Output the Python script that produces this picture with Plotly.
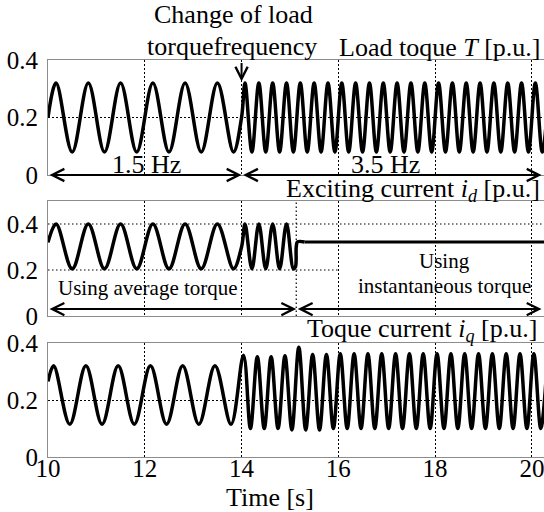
import plotly.graph_objects as go
from plotly.subplots import make_subplots

# ---------------- data ----------------
# Load torque T [p.u.] : extrema / crossing points
t_T = [10.0, 10.167, 10.5, 10.833, 11.167, 11.5, 11.833, 12.167, 12.5, 12.833, 13.167, 13.5, 13.833, 14.0,
       14.071, 14.214, 14.357, 14.5, 14.643, 14.786, 14.929, 15.071, 15.214, 15.357, 15.5, 15.643,
       15.786, 15.929, 16.071, 16.214, 16.357, 16.5, 16.643, 16.786, 16.929, 17.071, 17.214, 17.357,
       17.5, 17.643, 17.786, 17.929, 18.071, 18.214, 18.357, 18.5, 18.643, 18.786, 18.929, 19.071,
       19.214, 19.357, 19.5, 19.643, 19.786, 19.929, 20.071, 20.214, 20.357]
v_T = [0.20,
       0.32, 0.08, 0.32, 0.08, 0.32, 0.08, 0.32, 0.08, 0.32, 0.08, 0.32, 0.08,
       0.20,
       0.32, 0.08, 0.32, 0.08, 0.32, 0.08, 0.32, 0.08, 0.32, 0.08, 0.32, 0.08,
       0.32, 0.08, 0.32, 0.08, 0.32, 0.08, 0.32, 0.08, 0.32, 0.08, 0.32, 0.08,
       0.32, 0.08, 0.32, 0.08, 0.32, 0.08, 0.32, 0.08, 0.32, 0.08, 0.32, 0.08,
       0.32, 0.08, 0.32, 0.08, 0.32, 0.08, 0.32, 0.08, 0.32]

# Exciting current i_d [p.u.] : oscillating part (average-torque control)
t_id = [10.0, 10.167, 10.5, 10.833, 11.167, 11.5, 11.833, 12.167, 12.5, 12.833, 13.167, 13.5, 13.833, 14.0,
        14.071, 14.214, 14.357, 14.5, 14.643, 14.786, 14.929, 15.071, 15.115, 15.13, 15.155, 15.3]
v_id = [0.32,
        0.40, 0.205, 0.40, 0.205, 0.40, 0.205, 0.40, 0.205, 0.40, 0.205, 0.40, 0.205,
        0.30,
        0.40, 0.205, 0.40, 0.205, 0.40, 0.205, 0.40, 0.205, 0.215, 0.30, 0.322, 0.322]
# constant part (instantaneous-torque control)
t_id_flat = [15.3, 20.25]
v_id_flat = [0.322, 0.322]
switch_time = 15.13

# Torque current i_q [p.u.]
t_iq = [10.0, 10.117, 10.45, 10.783, 11.117, 11.45, 11.783, 12.117, 12.45, 12.783, 13.117, 13.45, 13.783,
        14.04, 14.183, 14.326, 14.469, 14.611, 14.754, 14.897, 15.04, 15.183, 15.326, 15.469, 15.611,
        15.754, 15.897, 16.04, 16.183, 16.326, 16.469, 16.611, 16.754, 16.897, 17.04, 17.183, 17.326,
        17.469, 17.611, 17.754, 17.897, 18.04, 18.183, 18.326, 18.469, 18.611, 18.754, 18.897, 19.04,
        19.183, 19.326, 19.469, 19.611, 19.754, 19.897, 20.04, 20.183, 20.326]
v_iq = [0.265,
        0.32, 0.115, 0.32, 0.115, 0.32, 0.115, 0.32, 0.115, 0.32, 0.115, 0.32, 0.115,
        0.357, 0.10, 0.352, 0.10, 0.352, 0.10, 0.355, 0.095, 0.385, 0.095, 0.36, 0.095,
        0.36, 0.10, 0.362, 0.10, 0.362, 0.10, 0.362, 0.10, 0.362, 0.10, 0.362, 0.10,
        0.362, 0.10, 0.362, 0.10, 0.362, 0.10, 0.362, 0.10, 0.362, 0.10, 0.362, 0.10,
        0.362, 0.10, 0.362, 0.10, 0.362, 0.10, 0.362, 0.10, 0.362]

x_ticks = [10, 12, 14, 16, 18, 20]
x_ticktext = ["10", "12", "14", "16", "18", "20"]
y_ticks = [0, 0.2, 0.4]
y_ticktext = ["0", "0.2", "0.4"]
change_time = 14

# ---------------- figure ----------------
W, H = 544, 512
ML, MR, MT, MB = 48, 0, 0, 55
PW, PH = W - ML - MR, H - MT - MB


def px(p):
    return (p - ML) / PW


def py(p):
    return (PH - p) / PH


FONT = "Liberation Serif, Times New Roman, Times, serif"
FS = 25
DOT = "1.5px,2.5px"
FRAME = "#8c8c8c"

fig = make_subplots(rows=3, cols=1, shared_xaxes=True)

wave = dict(color="black", width=3.5, shape="spline", smoothing=1)
fig.add_trace(go.Scatter(x=t_T, y=v_T, mode="lines", line=wave, showlegend=False), row=1, col=1)
fig.add_trace(go.Scatter(x=t_id, y=v_id, mode="lines", line=wave, showlegend=False), row=2, col=1)
fig.add_trace(go.Scatter(x=t_id_flat, y=v_id_flat, mode="lines",
                         line=dict(color="black", width=3), showlegend=False), row=2, col=1)
fig.add_trace(go.Scatter(x=t_iq, y=v_iq, mode="lines", line=wave, showlegend=False), row=3, col=1)

xcommon = dict(range=[10, 20.25], tickvals=x_ticks, ticktext=x_ticktext, showgrid=True,
               gridcolor="black", griddash=DOT, gridwidth=1.2, showline=True, linecolor=FRAME,
               linewidth=1.2, mirror=True, ticks="", zeroline=False, automargin=False,
               ticklabeloverflow="allow", ticklabelstandoff=-11,
               tickfont=dict(family=FONT, size=FS, color="black"))
ycommon = dict(tickvals=y_ticks, ticktext=y_ticktext, showgrid=True, gridcolor="black",
               griddash=DOT, gridwidth=1.2, showline=True, linecolor=FRAME, linewidth=1.2,
               mirror=False, ticks="", zeroline=False, ticklabelstandoff=4, automargin=False,
               tickfont=dict(family=FONT, size=FS, color="black"))

fig.update_layout(
    xaxis=dict(xcommon, showticklabels=False),
    xaxis2=dict(xcommon, showticklabels=False),
    xaxis3=dict(xcommon),
    yaxis=dict(ycommon, range=[0, 0.4], domain=[py(175), py(60)]),
    yaxis2=dict(ycommon, range=[0, 0.5], domain=[py(316), py(201)], showgrid=False),
    yaxis3=dict(ycommon, range=[0, 0.4], domain=[py(457), py(343)]),
)

# panel-2 reference lines
fig.add_shape(type="line", xref="paper", x0=0, x1=1, yref="y2", y0=0.4, y1=0.4,
              line=dict(color="black", width=1.2, dash=DOT), layer="below")
fig.add_shape(type="line", xref="x2", x0=10, x1=16, yref="y2", y0=0.2, y1=0.2,
              line=dict(color="black", width=1.2, dash=DOT), layer="below")
fig.add_shape(type="line", xref="x2", x0=switch_time, x1=switch_time, yref="y2 domain", y0=0, y1=1,
              line=dict(color="black", width=1.2, dash=DOT), layer="below")

ann = []


def text(s, x, y, xa="center", size=26):
    ann.append(dict(text=s, x=px(x), y=py(y), xref="paper", yref="paper", showarrow=False,
                    xanchor=xa, yanchor="middle",
                    font=dict(family=FONT, size=size, color="black")))


text("Change of load", 233, 15)
text("torquefrequency", 232, 46)
text("Load toque <i>T</i> [p.u.]", 542, 48, "right")
text("1.5 Hz", 146, 164.5)
text("3.5 Hz", 385, 164.5)
text("Exciting current <i>i</i><sub><i>d</i></sub> [p.u.]", 542, 190, "right")
text("Using average torque", 148, 288, size=21)
text("Using", 444, 261, size=21)
text("instantaneous torque", 444, 285.5, size=21)
text("Toque current <i>i</i><sub><i>q</i></sub> [p.u.]", 539, 330, "right")
text("Time [s]", 270, 497)


def arrow(xr, yr, x0, y0, x1, y1, both=True):
    d = dict(text="", xref=xr, yref=yr, axref=xr, ayref=yr, x=x1, y=y1, ax=x0, ay=y0,
             showarrow=True, arrowhead=5, arrowsize=1.2, arrowwidth=2, arrowcolor="black",
             standoff=0, startstandoff=0)
    if both:
        d.update(arrowside="end+start", startarrowhead=5, startarrowsize=1.2)
    ann.append(d)


arrow("x", "y", 10, 0, change_time, 0)
arrow("x", "y", change_time, 0, 20.2, 0)
arrow("x2", "y2", 10, 0.03, switch_time, 0.03)
arrow("x2", "y2", switch_time, 0.03, 20.2, 0.03)
arrow("x", "y", change_time, 0.395, change_time, 0.325, both=False)

fig.update_layout(
    annotations=ann,
    width=W, height=H,
    margin=dict(l=ML, r=MR, t=MT, b=MB, autoexpand=False),
    plot_bgcolor="white", paper_bgcolor="white",
    font=dict(family=FONT, size=FS, color="black"),
    showlegend=False,
)

fig.write_html("out.html")
